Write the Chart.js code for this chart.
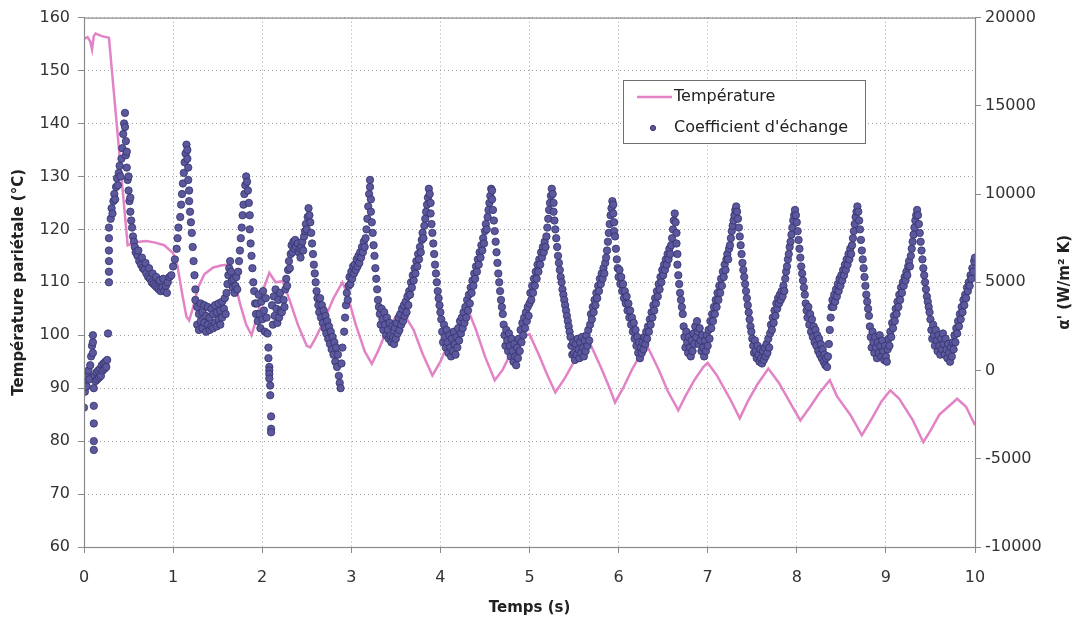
<!DOCTYPE html>
<html>
<head>
<meta charset="utf-8">
<script src="https://cdn.jsdelivr.net/npm/chart.js@4.4.1/dist/chart.umd.min.js"></script>
<style>
  body { margin: 0; background: #fff; }
  canvas { display: block; }
</style>
</head>
<body>
<canvas id="chart" width="1079" height="624"></canvas>
<script>
// Température pariétale (°C) vs temps (s)
const temperature = [
  [0,156],[0.04,156.3],[0.07,155.5],[0.09,154],[0.11,156.5],[0.13,157],[0.2,156.5],[0.28,156.2],
  [0.49,117],[0.6,117.6],[0.7,117.8],[0.8,117.5],[0.9,117],[1.0,115.5],[1.05,113],[1.1,108],
  [1.15,103.5],[1.18,102.8],[1.22,105],[1.28,109],[1.35,111.5],[1.45,112.8],[1.55,113.2],[1.62,113.3],
  [1.68,111],[1.75,106],[1.82,102],[1.88,100],[1.95,104],[2.02,109],[2.08,111.8],[2.15,110],
  [2.23,110.2],[2.3,107],[2.4,102],[2.5,98],[2.54,97.7],[2.6,99.5],[2.7,103],[2.8,107],[2.9,110],
  [2.95,108],[3.05,102],[3.15,97],[3.23,94.6],[3.3,97],[3.4,101],[3.5,103.5],[3.58,104.3],[3.7,101],
  [3.8,96.5],[3.91,92.4],[4.0,95],[4.1,99],[4.2,102],[4.33,104],[4.4,101],[4.5,96],[4.61,91.5],
  [4.7,93.5],[4.8,97],[4.9,99.5],[5.0,100.2],[5.1,96.5],[5.2,92.5],[5.29,89.2],[5.4,92],[5.5,95],
  [5.6,97.5],[5.68,98.4],[5.8,94],[5.9,90],[5.96,87.3],[6.05,90],[6.15,93.5],[6.25,96.5],[6.33,97.7],
  [6.45,93.5],[6.55,89.5],[6.67,85.8],[6.75,88.5],[6.85,91.5],[6.95,94],[7.0,94.8],[7.1,92.5],
  [7.25,88],[7.36,84.3],[7.45,87.5],[7.55,90.5],[7.68,93.7],[7.8,91],[7.95,86.5],[8.04,83.9],
  [8.15,86.5],[8.25,89],[8.37,91.5],[8.45,88.5],[8.6,85],[8.73,81.1],[8.85,84.5],[8.95,87.5],
  [9.05,89.6],[9.15,88],[9.3,84],[9.42,79.8],[9.5,82],[9.6,85],[9.7,86.5],[9.8,88],[9.9,86.5],[10.0,83]
];

// Coefficient d'échange α' (W/m² K) vs temps (s)
const coefficient = [
  [0.00,-2100],[0.01,-1200],[0.02,-600],[0.03,-900],[0.04,-300],[0.05,0],[0.06,-500],[0.07,300],[0.08,800],
  [0.09,1400],[0.10,2000],[0.10,1600],[0.10,1000],[0.11,-1000],[0.11,-2000],[0.11,-3000],[0.11,-4000],[0.11,-4500],
  [0.12,-300],[0.13,-600],[0.14,-100],[0.15,-500],[0.16,0],[0.17,-400],[0.18,100],[0.19,-300],[0.20,300],
  [0.21,0],[0.22,400],[0.23,100],[0.24,500],[0.25,200],[0.26,600],[0.27,2100],
  [0.28,5000],[0.28,5600],[0.28,6200],[0.28,6800],[0.28,7500],[0.28,8100],[0.30,8600],[0.31,9200],[0.32,8900],
  [0.33,9600],[0.34,10000],[0.35,9700],[0.36,10400],[0.37,10900],[0.38,10500],[0.39,11200],[0.40,11600],
  [0.41,11000],[0.42,12000],[0.43,12600],[0.44,13400],[0.45,14000],[0.46,14600],[0.46,13800],[0.47,13000],
  [0.47,12200],[0.48,11500],[0.48,12400],[0.49,10800],[0.50,10200],[0.50,11000],[0.51,9600],[0.52,9000],
  [0.52,9800],[0.53,8500],[0.54,8100],[0.55,7600],[0.56,7300],
  [0.57,7000],[0.58,6700],[0.60,6500],[0.61,6800],[0.62,6200],[0.64,6000],[0.65,6400],[0.66,5800],[0.68,5700],
  [0.69,6100],[0.70,5500],[0.72,5300],[0.73,5800],[0.74,5200],[0.76,5000],[0.77,5500],[0.78,4900],[0.80,4800],
  [0.81,5300],[0.82,4700],[0.84,4600],[0.85,5100],[0.86,4500],[0.88,4700],[0.89,5200],[0.90,4500],[0.92,4800],
  [0.93,4400],[0.94,5000],[0.96,5300],
  [0.98,5400],[1.00,5900],[1.02,6300],[1.04,6900],[1.05,7500],[1.06,8100],[1.08,8700],[1.09,9400],[1.10,10000],
  [1.11,10600],[1.12,11200],[1.13,11800],[1.14,12300],[1.15,12800],[1.16,12500],[1.16,12000],
  [1.17,11500],[1.17,10800],[1.18,10200],[1.18,9600],[1.19,9000],[1.20,8400],[1.21,7800],[1.22,7000],
  [1.23,6200],[1.24,5400],[1.25,4600],[1.25,4000],
  [1.27,3600],[1.27,2600],[1.29,3200],[1.29,2300],[1.31,3800],[1.31,2800],[1.33,3300],[1.33,2400],[1.35,3700],
  [1.35,2700],[1.37,3100],[1.37,2200],[1.39,3600],[1.39,2600],[1.41,3000],[1.41,2300],[1.43,3500],[1.43,2500],
  [1.45,3200],[1.45,2400],[1.47,3700],[1.47,2700],[1.49,3300],[1.49,2500],[1.51,3800],[1.51,2900],[1.53,3400],
  [1.53,2600],[1.55,3900],[1.55,3000],[1.57,3500],[1.58,4100],[1.59,3200],[1.60,4400],[1.61,4900],[1.62,5400],
  [1.63,5800],[1.64,6200],[1.65,5600],[1.66,5100],[1.67,4700],[1.68,5200],[1.69,4400],
  [1.70,4800],[1.71,5300],[1.72,4600],[1.73,5600],[1.74,6200],[1.75,6800],[1.76,7500],[1.77,8100],[1.78,8800],
  [1.79,9400],[1.80,10000],[1.81,10500],[1.82,11000],[1.83,10700],[1.84,10200],[1.85,9500],[1.86,8800],
  [1.86,8000],[1.87,7200],[1.88,6500],[1.89,5800],[1.90,5000],[1.91,4500],[1.92,3800],[1.93,3200],
  [1.94,3800],[1.95,2800],[1.96,4300],[1.97,3200],[1.98,2400],[1.99,3900],[2.00,2900],[2.01,4500],[2.02,3400],
  [2.03,2200],[2.04,4100],[2.05,3000],[2.06,2100],[2.07,1300],[2.07,700],[2.08,200],[2.08,0],[2.08,-200],
  [2.08,-450],[2.09,-850],[2.09,-1400],[2.10,-2600],[2.10,-3300],[2.10,-3500],[2.11,3700],[2.12,2600],
  [2.13,4200],[2.14,3100],[2.15,4600],[2.16,3500],[2.17,2700],[2.18,4000],[2.19,3000],[2.20,4400],[2.21,3400],
  [2.22,3300],[2.24,4000],[2.25,3600],[2.26,4600],[2.27,5200],[2.28,4800],[2.29,5700],[2.30,6200],[2.31,5800],
  [2.32,6600],[2.33,7100],[2.34,6700],[2.35,7300],[2.36,6900],[2.37,7400],[2.38,7000],[2.40,7200],[2.41,6700],
  [2.42,6900],[2.43,6400],[2.44,7000],[2.45,7300],[2.46,6800],[2.47,7600],[2.48,7900],[2.49,8300],[2.50,8000],
  [2.51,8700],[2.52,9200],[2.53,8800],[2.54,8400],[2.55,7800],[2.56,7200],[2.57,6600],[2.58,6000],[2.59,5500],
  [2.60,5000],[2.61,4500],[2.62,4100],[2.63,3700],[2.64,3300],
  [2.65,4100],[2.66,3000],[2.67,3700],[2.68,2700],[2.69,3400],[2.70,2400],[2.71,3100],[2.72,2100],[2.73,2800],
  [2.74,1800],[2.75,2500],[2.76,1500],[2.77,2200],[2.78,1200],[2.79,1900],[2.80,900],[2.81,1600],[2.82,500],
  [2.83,1300],[2.84,200],[2.85,900],[2.86,-300],[2.87,-700],[2.88,-1000],[2.89,400],[2.90,1300],
  [2.92,2200],[2.93,3000],[2.94,3700],[2.95,4400],[2.96,4000],[2.97,4800],[2.98,5300],[2.99,4900],[3.00,5600],
  [3.01,5200],[3.02,5900],[3.03,5500],[3.04,6000],[3.05,5700],[3.06,6300],[3.07,5900],[3.08,6500],[3.09,6100],
  [3.10,6700],[3.11,6400],[3.12,7000],[3.13,6700],[3.14,7300],[3.15,7000],[3.16,7500],[3.17,8000],[3.18,8600],
  [3.19,9300],[3.20,10000],[3.21,10800],[3.21,10400],[3.22,9700],[3.22,9000],[3.23,8400],[3.24,7800],
  [3.25,7100],[3.26,6500],[3.27,5800],[3.28,5200],[3.29,4600],[3.30,4000],[3.31,3600],
  [3.32,3200],[3.33,2600],[3.34,3500],[3.35,2900],[3.36,2300],[3.37,3300],[3.38,2600],[3.39,2000],[3.40,3000],
  [3.41,2300],[3.42,1800],[3.43,2700],[3.44,2000],[3.45,1600],[3.46,2500],[3.47,1900],[3.48,1500],[3.49,2400],
  [3.50,1800],[3.51,2700],[3.52,2100],[3.53,3000],[3.54,2300],[3.55,3200],[3.56,2600],[3.57,3500],[3.58,2800],
  [3.59,3700],[3.60,3100],[3.61,3900],[3.62,3300],[3.63,4200],[3.64,3700],[3.65,4500],
  [3.66,4300],[3.67,5000],[3.68,4700],[3.69,5400],[3.70,5100],[3.71,5800],[3.72,5500],[3.73,6200],[3.74,5900],
  [3.75,6600],[3.76,6300],[3.77,7000],[3.78,6700],[3.79,7400],[3.80,7800],[3.81,7500],[3.82,8200],[3.83,8600],
  [3.84,9000],[3.85,9400],[3.86,9800],[3.87,10300],[3.88,10000],[3.89,9500],[3.89,8900],[3.90,8300],
  [3.91,7800],[3.92,7200],[3.93,6600],[3.94,6000],[3.95,5500],[3.96,5000],[3.97,4500],[3.98,4100],[3.99,3700],
  [4.00,3300],[4.01,2900],
  [4.02,2200],[4.03,1600],[4.04,2600],[4.05,1900],[4.06,1300],[4.07,2300],[4.08,1600],[4.09,1000],[4.10,2000],
  [4.11,1300],[4.12,800],[4.13,1800],[4.14,1100],[4.15,2200],[4.16,1500],[4.17,900],[4.18,1900],[4.19,1300],
  [4.20,2400],[4.21,1700],[4.22,2800],[4.23,2100],[4.24,3000],[4.25,2400],[4.26,3300],[4.27,2700],[4.28,3600],
  [4.29,3000],[4.30,4000],[4.31,3400],[4.32,4300],[4.33,3800],[4.34,4700],
  [4.35,4400],[4.36,5100],[4.37,4800],[4.38,5500],[4.39,5200],[4.40,5900],[4.41,5600],[4.42,6300],[4.43,6000],
  [4.44,6700],[4.45,6400],[4.46,7100],[4.47,6800],[4.48,7500],[4.49,7200],[4.50,7900],[4.51,8300],[4.52,8000],
  [4.53,8700],[4.54,9100],[4.55,9500],[4.56,9900],[4.57,10300],[4.58,10200],[4.58,9700],[4.59,9100],
  [4.60,8500],[4.61,7900],[4.62,7300],[4.63,6700],[4.64,6100],[4.65,5500],[4.66,5000],[4.67,4500],[4.68,4000],
  [4.69,3600],[4.70,3200],
  [4.71,2600],[4.72,2000],[4.73,1400],[4.74,2300],[4.75,1700],[4.76,1100],[4.77,2100],[4.78,1400],[4.79,800],
  [4.80,1800],[4.81,1100],[4.82,500],[4.83,1500],[4.84,800],[4.85,300],[4.86,1300],[4.87,700],[4.88,1800],
  [4.89,1100],[4.90,2300],[4.91,1600],[4.92,2700],[4.93,2000],[4.94,3000],[4.95,2400],[4.96,3300],[4.97,2800],
  [4.98,3600],[4.99,3100],
  [5.00,3800],[5.01,4400],[5.02,4000],[5.03,4800],[5.04,4400],[5.05,5200],[5.06,4800],[5.07,5600],[5.08,5200],
  [5.09,6000],[5.10,5600],[5.11,6300],[5.12,6000],[5.13,6700],[5.14,6400],[5.15,7000],[5.16,6700],[5.17,7300],
  [5.18,7000],[5.19,7600],[5.20,8100],[5.21,8600],[5.22,9100],[5.23,9500],[5.24,9900],[5.25,10300],
  [5.26,10000],[5.27,9500],[5.27,9000],[5.28,8500],[5.29,8000],[5.30,7500],[5.31,7000],[5.32,6500],[5.33,6100],
  [5.34,5700],[5.35,5300],[5.36,5000],[5.37,4600],[5.38,4300],[5.39,4000],[5.40,3700],[5.41,3400],[5.42,3100],
  [5.43,2800],[5.44,2500],[5.45,2200],[5.46,1900],
  [5.47,1400],[5.48,900],[5.49,1600],[5.50,1000],[5.51,600],[5.52,1500],[5.53,900],[5.54,1800],[5.55,1200],
  [5.56,700],[5.57,1600],[5.58,1000],[5.59,1900],[5.60,1300],[5.61,800],[5.62,1700],[5.63,1100],[5.64,2000],
  [5.65,1400],[5.66,2300],[5.67,1700],
  [5.68,2600],[5.69,3200],[5.70,2900],[5.71,3600],[5.72,3300],[5.73,4000],[5.74,3700],[5.75,4400],[5.76,4100],
  [5.77,4800],[5.78,4500],[5.79,5200],[5.80,4900],[5.81,5500],[5.82,5200],[5.83,5800],[5.84,5500],[5.85,6100],
  [5.86,6400],[5.87,6800],[5.88,7300],[5.89,7800],[5.90,8300],[5.91,8800],[5.92,9200],[5.93,9600],[5.94,9400],
  [5.94,8900],[5.95,8400],[5.95,7900],[5.96,7600],[5.97,6900],[5.98,6300],[5.99,5800],[6.00,5300],[6.01,5700],
  [6.02,4900],[6.03,5300],[6.04,4500],[6.05,4900],[6.06,4100],[6.07,4500],[6.08,3800],[6.09,4200],[6.10,3400],
  [6.11,3800],[6.12,3000],[6.13,3400],[6.14,2600],[6.15,3000],[6.16,2200],[6.17,2700],[6.18,1800],[6.19,2300],
  [6.20,1400],[6.21,1900],[6.22,1000],[6.23,1600],[6.24,700],[6.25,1300],[6.26,1000],[6.27,1600],[6.28,1200],
  [6.29,1900],[6.30,1500],
  [6.31,2200],[6.32,1800],[6.33,2500],[6.34,2200],[6.35,2900],[6.36,2600],[6.37,3300],[6.38,3000],[6.39,3700],
  [6.40,3400],[6.41,4100],[6.42,3800],[6.43,4500],[6.44,4200],[6.45,4900],[6.46,4600],[6.47,5300],[6.48,5000],
  [6.49,5700],[6.50,5400],[6.51,6000],[6.52,5700],[6.53,6300],[6.54,6000],[6.55,6600],[6.56,6300],[6.57,6900],
  [6.58,6600],[6.59,7100],[6.60,7500],[6.61,8000],[6.62,8500],[6.63,8900],[6.64,8400],[6.65,7800],[6.65,7200],
  [6.66,6600],[6.66,6000],[6.67,5400],[6.68,4900],[6.69,4400],[6.70,4000],[6.71,3600],[6.72,3200],
  [6.73,2500],[6.74,1900],[6.75,1300],[6.76,2200],[6.77,1600],[6.78,1000],[6.79,1900],[6.80,1300],[6.81,800],
  [6.82,1700],[6.83,1100],[6.84,2100],[6.85,1500],[6.86,2500],[6.87,1900],[6.88,2800],[6.89,2200],[6.90,1500],
  [6.91,2400],[6.92,1700],[6.93,1100],[6.94,2000],[6.95,1300],[6.96,800],[6.97,1700],[6.98,1100],[6.99,2000],
  [7.00,1400],[7.01,2300],[7.02,1800],
  [7.03,2800],[7.04,2400],[7.05,3200],[7.06,2800],[7.07,3600],[7.08,3200],[7.09,4000],[7.10,3600],[7.11,4400],
  [7.12,4000],[7.13,4800],[7.14,4400],[7.15,5200],[7.16,4800],[7.17,5600],[7.18,5300],[7.19,6000],[7.20,5700],
  [7.21,6300],[7.22,6600],[7.23,6300],[7.24,6900],[7.25,7100],[7.26,7500],[7.27,7900],[7.28,8200],[7.29,8500],
  [7.30,8800],[7.31,9100],[7.32,9300],[7.33,9000],[7.34,8600],[7.35,8100],[7.36,7600],[7.37,7100],[7.38,6600],
  [7.39,6100],[7.40,5700],[7.41,5300],[7.42,4900],[7.43,4500],[7.44,4100],[7.45,3700],[7.46,3300],[7.47,2900],
  [7.48,2500],[7.49,2200],[7.50,1800],
  [7.51,1400],[7.52,1000],[7.53,1700],[7.54,1100],[7.55,700],[7.56,1400],[7.57,900],[7.58,500],[7.59,1200],
  [7.60,700],[7.61,400],[7.62,1100],[7.63,600],[7.64,1300],[7.65,800],[7.66,1500],[7.67,1000],[7.68,1800],
  [7.69,1300],[7.70,2100],
  [7.71,2600],[7.72,2300],[7.73,3000],[7.74,2700],[7.75,3400],[7.76,3100],[7.77,3800],[7.78,3500],[7.79,4100],
  [7.80,3800],[7.81,4300],[7.82,4000],[7.83,4500],[7.84,4200],[7.85,4800],[7.86,4500],[7.87,5200],[7.88,5600],
  [7.89,5900],[7.90,6300],[7.91,6600],[7.92,7000],[7.93,7300],[7.94,7700],[7.95,8100],[7.96,8500],[7.97,8800],
  [7.98,9100],[7.99,8800],[8.00,8400],[8.01,7900],[8.02,7400],[8.03,6900],[8.04,6400],[8.05,5900],[8.06,5500],
  [8.07,5100],[8.08,4700],[8.09,4300],
  [8.10,3800],[8.11,3400],[8.12,3000],[8.13,3600],[8.14,2600],[8.15,3200],[8.16,2200],[8.17,2900],[8.18,1900],
  [8.19,2500],[8.20,1600],[8.21,2300],[8.22,1400],[8.23,2000],[8.24,1100],[8.25,1800],[8.26,900],[8.27,1500],
  [8.28,700],[8.29,1200],[8.30,500],[8.31,900],[8.32,300],[8.33,700],[8.34,200],[8.35,800],
  [8.36,1500],[8.37,2300],[8.38,3000],[8.39,3600],[8.40,4000],[8.41,3600],[8.42,4300],[8.43,3900],[8.44,4600],
  [8.45,4200],[8.46,4900],[8.47,4500],[8.48,5200],[8.49,4800],[8.50,5400],[8.51,5100],[8.52,5700],[8.53,5400],
  [8.54,6000],[8.55,5700],[8.56,6300],[8.57,6000],[8.58,6600],[8.59,6300],[8.60,6900],[8.61,6600],[8.62,7100],
  [8.63,7500],[8.64,7900],[8.65,8300],[8.66,8700],[8.67,9000],[8.68,9300],[8.69,9000],[8.70,8500],[8.71,8000],
  [8.72,7400],[8.73,6800],[8.74,6300],[8.75,5800],[8.76,5300],[8.77,4800],[8.78,4300],[8.79,3900],[8.80,3500],
  [8.81,3100],
  [8.82,2500],[8.83,1900],[8.84,1300],[8.85,2200],[8.86,1600],[8.87,1000],[8.88,1900],[8.89,1300],[8.90,700],
  [8.91,1600],[8.92,1000],[8.93,2000],[8.94,1400],[8.95,800],[8.96,1700],[8.97,1100],[8.98,600],[8.99,1400],
  [9.00,800],[9.01,500],[9.02,1200],
  [9.03,1800],[9.04,1400],[9.05,2200],[9.06,1900],[9.07,2700],[9.08,2400],[9.09,3100],[9.10,2800],[9.11,3500],
  [9.12,3200],[9.13,3900],[9.14,3600],[9.15,4300],[9.16,4000],[9.17,4700],[9.18,4400],[9.19,5000],[9.20,4800],
  [9.21,5300],[9.22,5100],[9.23,5600],[9.24,5400],[9.25,5900],[9.26,6200],[9.27,5900],[9.28,6500],[9.29,6900],
  [9.30,7300],[9.31,7700],[9.32,8100],[9.33,8500],[9.34,8800],[9.35,9100],[9.36,8800],[9.37,8300],[9.38,7800],
  [9.39,7300],[9.40,6800],[9.41,6300],[9.42,5800],[9.43,5400],[9.44,5000],[9.45,4600],[9.46,4200],[9.47,3900],
  [9.48,3600],[9.49,3300],
  [9.50,2900],[9.51,2300],[9.52,1800],[9.53,2600],[9.54,2000],[9.55,1400],[9.56,2300],[9.57,1700],[9.58,1100],
  [9.59,2000],[9.60,1400],[9.61,900],[9.62,1800],[9.63,1200],[9.64,2100],[9.65,1500],[9.66,900],[9.67,1800],
  [9.68,1200],[9.69,700],[9.70,1500],[9.71,1000],[9.72,500],[9.73,1300],[9.74,800],[9.75,1600],
  [9.76,1200],[9.77,2000],[9.78,1600],[9.79,2400],[9.80,2100],[9.81,2800],[9.82,2500],[9.83,3200],[9.84,2900],
  [9.85,3600],[9.86,3300],[9.87,4000],[9.88,3700],[9.89,4300],[9.90,4100],[9.91,4700],[9.92,4500],[9.93,5000],
  [9.94,4800],[9.95,5400],[9.96,5200],[9.97,5800],[9.98,5600],[9.99,6200],[10.00,6400]
];

const timeRange = [0, 10];
const tempRange = [60, 160];
const coefRange = [-10000, 20000];

const pink = '#e283c6';
const dotFill = '#5b589e';
const dotEdge = '#34326b';
const font = 'DejaVu Sans';

// frame, legend and right-hand title
const decorations = {
    id: 'decorations',
    afterDraw(chart) {
        const ctx = chart.ctx;
        const a = chart.chartArea;
        ctx.save();
        ctx.strokeStyle = '#8a8a8a';
        ctx.lineWidth = 1.2;
        ctx.setLineDash([]);
        ctx.strokeRect(a.left + 0.5, a.top + 0.5, a.right - a.left, a.bottom - a.top);

        // legend box
        ctx.fillStyle = '#fff';
        ctx.fillRect(623, 80, 242, 63);
        ctx.strokeStyle = '#6f6f6f';
        ctx.lineWidth = 1;
        ctx.strokeRect(623.5, 80.5, 242, 63);
        ctx.strokeStyle = pink;
        ctx.lineWidth = 2.5;
        ctx.beginPath();
        ctx.moveTo(637, 97);
        ctx.lineTo(672, 97);
        ctx.stroke();
        ctx.fillStyle = dotFill;
        ctx.strokeStyle = dotEdge;
        ctx.lineWidth = 1;
        ctx.beginPath();
        ctx.arc(653, 128, 2.6, 0, Math.PI * 2);
        ctx.fill();
        ctx.stroke();
        ctx.fillStyle = '#222';
        ctx.font = '16px "' + font + '"';
        ctx.textBaseline = 'middle';
        ctx.textAlign = 'left';
        ctx.fillText('Température', 674, 97);
        ctx.fillText("Coefficient d'échange", 674, 128);

        // right axis title, reading upwards like the left one
        ctx.translate(1065, (a.top + a.bottom) / 2);
        ctx.rotate(-Math.PI / 2);
        ctx.textAlign = 'center';
        ctx.font = 'bold 15px "' + font + '"';
        ctx.fillText("α' (W/m² K)", 0, 0);
        ctx.restore();
    }
};

const gridStyle = {
    color: 'rgba(100,100,100,0.6)',
    lineWidth: 1,
    tickLength: 6,
    tickColor: '#8a8a8a',
    tickBorderDash: [],
    tickWidth: 1
};

new Chart(document.getElementById('chart'), {
    type: 'scatter',
    data: {
        datasets: [
            {
                type: 'line',
                label: 'Température',
                data: temperature.map(p => ({ x: p[0], y: p[1] })),
                yAxisID: 'y',
                borderColor: pink,
                borderWidth: 2.5,
                pointRadius: 0,
                tension: 0,
                fill: false,
                order: 1
            },
            {
                label: "Coefficient d'échange",
                data: coefficient.map(p => ({ x: p[0], y: p[1] })),
                yAxisID: 'y2',
                backgroundColor: dotFill,
                borderColor: dotEdge,
                borderWidth: 0.8,
                pointRadius: 3.7,
                order: 0
            }
        ]
    },
    options: {
        responsive: false,
        animation: false,
        layout: { padding: { top: 16, left: 0, right: 0, bottom: 0 } },
        plugins: {
            legend: { display: false },
            tooltip: { enabled: false }
        },
        scales: {
            x: {
                type: 'linear',
                min: timeRange[0],
                max: timeRange[1],
                afterFit(s) { s.height = 77; },
                ticks: {
                    stepSize: 1,
                    autoSkip: false,
                    padding: 15,
                    color: '#333',
                    font: { family: font, size: 16 }
                },
                grid: gridStyle,
                border: { display: false, dash: [1, 3] },
                title: {
                    display: true,
                    text: 'Temps (s)',
                    color: '#222',
                    padding: { top: 0, bottom: 7 },
                    font: { family: font, size: 15, weight: 'bold' }
                }
            },
            y: {
                position: 'left',
                min: tempRange[0],
                max: tempRange[1],
                afterFit(s) { s.width = 84; },
                ticks: {
                    stepSize: 10,
                    padding: 8,
                    color: '#333',
                    font: { family: font, size: 16 },
                    callback: v => String(v)
                },
                grid: gridStyle,
                border: { display: false, dash: [1, 3] },
                title: {
                    display: true,
                    text: 'Température pariétale (°C)',
                    color: '#222',
                    padding: { top: 10, bottom: 0 },
                    font: { family: font, size: 15, weight: 'bold' }
                }
            },
            y2: {
                position: 'right',
                min: coefRange[0],
                max: coefRange[1],
                afterFit(s) { s.width = 104; },
                ticks: {
                    stepSize: 5000,
                    padding: 4,
                    color: '#333',
                    font: { family: font, size: 16 },
                    callback: v => String(v)
                },
                grid: {
                    drawOnChartArea: false,
                    tickLength: 6,
                    tickColor: '#8a8a8a',
                    tickWidth: 1
                },
                border: { display: false }
            }
        }
    },
    plugins: [decorations]
});
</script>
</body>
</html>
